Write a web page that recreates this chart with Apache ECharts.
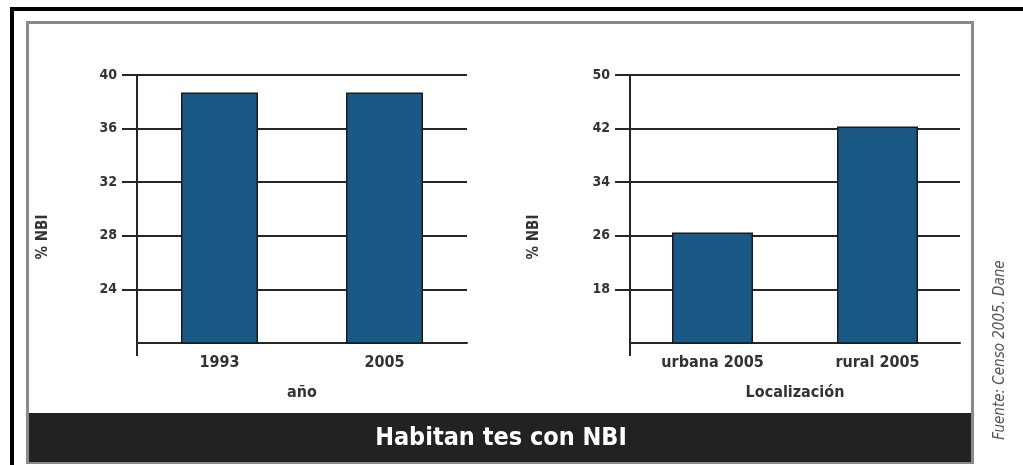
<!DOCTYPE html>
<html>
<head>
<meta charset="utf-8">
<script src="https://cdn.jsdelivr.net/npm/echarts@6/dist/echarts.min.js"></script>
<style>
  html, body { margin: 0; padding: 0; background: #fff; }
  #app { width: 1023px; height: 465px; }
</style>
</head>
<body>
<div id="app"></div>
<script>
// data
const yearCats = ["1993", "2005"];
const yearValues = [38.7, 38.7];
const placeCats = ["urbana 2005", "rural 2005"];
const placeValues = [26.5, 42.3];

const FONT = '"Liberation Sans Narrow", "DejaVu Sans Condensed", "Roboto Condensed", sans-serif';
const ink = "#262626";
const barColor = "#1a5886";

const dom = document.getElementById("app");
const myChart = echarts.init(dom, null, { renderer: "canvas" });

function yAxisFor(gridIndex, min, max, interval) {
  return {
    gridIndex: gridIndex,
    type: "value",
    min: min,
    max: max,
    interval: interval,
    axisLine: { show: true, lineStyle: { color: ink, width: 2 } },
    axisTick: { show: true, length: 15, lineStyle: { color: ink, width: 2 } },
    splitLine: { show: true, lineStyle: { color: ink, width: 2 } },
    axisLabel: {
      margin: 20,
      color: "#333",
      fontFamily: FONT,
      fontWeight: "bold",
      fontSize: 14,
      showMinLabel: false
    }
  };
}

function xAxisFor(gridIndex, cats, name) {
  return {
    gridIndex: gridIndex,
    type: "category",
    data: cats,
    name: name,
    nameLocation: "middle",
    nameGap: 42,
    nameTextStyle: { color: "#333", fontFamily: FONT, fontWeight: "bold", fontSize: 16 },
    axisLine: { show: true, lineStyle: { color: ink, width: 2 } },
    axisTick: { show: false },
    axisLabel: {
      margin: 12,
      color: "#333",
      fontFamily: FONT,
      fontWeight: "bold",
      fontSize: 16
    }
  };
}

// only draws the little downward stub of the y axis below the baseline
function stubAxisFor(gridIndex) {
  return {
    gridIndex: gridIndex,
    type: "value",
    position: "bottom",
    min: 0,
    max: 1,
    axisLine: { show: false },
    axisLabel: { show: false },
    splitLine: { show: false },
    axisTick: {
      show: true,
      length: 13,
      customValues: [0],
      lineStyle: { color: ink, width: 2 }
    }
  };
}

function barSeries(idx, values, width) {
  return {
    type: "bar",
    xAxisIndex: idx,
    yAxisIndex: idx,
    barWidth: width,
    data: values,
    itemStyle: { color: barColor, borderColor: "#1b1b1b", borderWidth: 1.5 }
  };
}

myChart.setOption({
  animation: false,
  grid: [
    { left: 137, top: 75, width: 330, height: 268 },
    { left: 630, top: 75, width: 330, height: 268 }
  ],
  xAxis: [
    xAxisFor(0, yearCats, "año"),
    xAxisFor(1, placeCats, "Localización"),
    stubAxisFor(0),
    stubAxisFor(1)
  ],
  yAxis: [yAxisFor(0, 20, 40, 4), yAxisFor(1, 10, 50, 8)],
  series: [barSeries(0, yearValues, 77), barSeries(1, placeValues, 81)],
  graphic: [
    // outer black frame (cropped)
    {
      type: "polyline",
      shape: { points: [[12, 470], [12, 9], [1030, 9]] },
      style: { stroke: "#000", lineWidth: 4, fill: null }
    },
    // inner grey frame
    {
      type: "rect",
      shape: { x: 27.5, y: 22.5, width: 945, height: 440 },
      style: { stroke: "#8a8a8a", lineWidth: 3, fill: null }
    },
    // dark banner
    {
      type: "rect",
      shape: { x: 29, y: 413, width: 942, height: 49 },
      style: { fill: "#222" }
    },
    {
      type: "text",
      x: 501,
      y: 438,
      style: {
        text: "Habitan tes con NBI",
        fill: "#fff",
        font: "bold 25px " + FONT,
        align: "center",
        verticalAlign: "middle"
      }
    },
    {
      type: "text",
      x: 43,
      y: 237,
      rotation: Math.PI / 2,
      style: {
        text: "% NBI",
        fill: "#333",
        font: "bold 15px " + FONT,
        align: "center",
        verticalAlign: "middle"
      }
    },
    {
      type: "text",
      x: 534,
      y: 237,
      rotation: Math.PI / 2,
      style: {
        text: "% NBI",
        fill: "#333",
        font: "bold 15px " + FONT,
        align: "center",
        verticalAlign: "middle"
      }
    },
    {
      type: "text",
      x: 1000,
      y: 350,
      rotation: Math.PI / 2,
      style: {
        text: "Fuente: Censo 2005. Dane",
        fill: "#555",
        font: "italic 15px " + FONT,
        align: "center",
        verticalAlign: "middle"
      }
    }
  ]
});
</script>
</body>
</html>
